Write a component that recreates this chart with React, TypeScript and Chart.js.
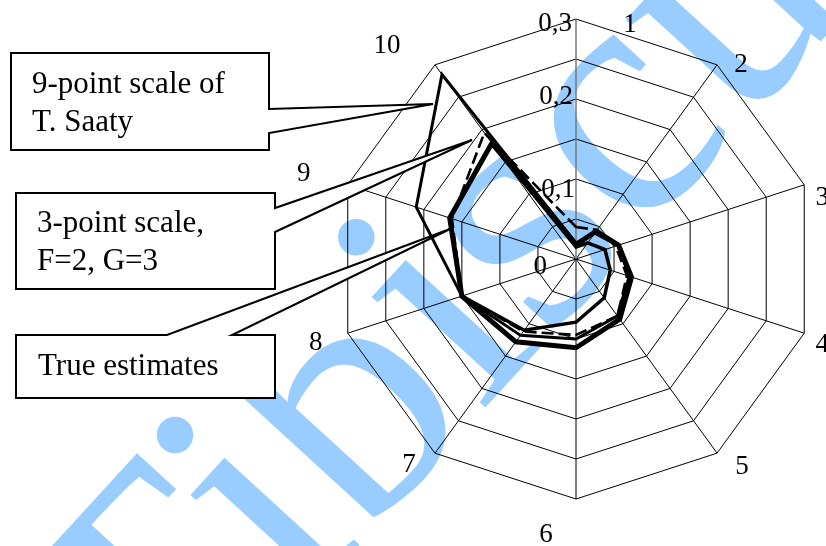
import React, { useEffect, useRef } from 'react';
import { Chart, registerables } from 'chart.js';

Chart.register(...registerables);

// ---- data ----
const categories = ['1', '2', '3', '4', '5', '6', '7', '8', '9', '10'];
const saatyScale = [0.02, 0.04, 0.055, 0.07, 0.088, 0.1, 0.118, 0.15, 0.21, 0.285];
const threePointScale = [0.04, 0.045, 0.052, 0.067, 0.088, 0.095, 0.112, 0.15, 0.163, 0.195];
const trueEstimates = [0.018, 0.043, 0.056, 0.073, 0.093, 0.111, 0.128, 0.15, 0.166, 0.179];
const otherScale = [0.015, 0.025, 0.038, 0.045, 0.06, 0.079, 0.11, 0.15, 0.166, 0.179];
const tickValues = [0, 0.1, 0.2, 0.3];
const tickLabels = ['0', '0,1', '0,2', '0,3'];
const calloutTexts = [['9-point scale of', 'T. Saaty'], ['3-point scale,', 'F=2, G=3'], ['True estimates']];
const watermarkText = 'Tibiscus';

// ---- layout (label placement only) ----
const SERIF = '"Liberation Serif", "Times New Roman", serif';
const pointLabelOffsets = [
  [54, 3.5], [24, -1.5], [18, 11], [18, 9.5], [25, 11.5],
  [-30, 33.5], [-26, 10], [-32, 8], [-44, -13], [-48, -21],
];
const tickLabelShift = [[-29, 5.5], [-1, 9], [-3, -4.5], [-4, 3]];

const decorPlugin = {
  id: 'decor',
  beforeDraw(chart: any) {
    const ctx = chart.ctx;
    ctx.save();
    ctx.fillStyle = '#99CCFF';
    ctx.font = `345px ${SERIF}`;
    ctx.translate(165, 757);
    ctx.rotate((-47.5 * Math.PI) / 180);
    ctx.textAlign = 'left';
    ctx.textBaseline = 'alphabetic';
    ctx.fillText(watermarkText, 0, 0);
    ctx.restore();
  },
  afterDraw(chart: any) {
    const ctx = chart.ctx;
    const scale = chart.scales.r;
    ctx.save();
    // point labels
    ctx.fillStyle = '#000';
    ctx.font = `27px ${SERIF}`;
    ctx.textAlign = 'center';
    ctx.textBaseline = 'alphabetic';
    categories.forEach((c, i) => {
      const p = scale.getPointPosition(i, scale.drawingArea);
      const o = pointLabelOffsets[i];
      ctx.fillText(c, p.x + o[0], p.y + o[1] + 9);
    });
    // tick labels
    ctx.textAlign = 'right';
    tickValues.forEach((v, i) => {
      const d = scale.getDistanceFromCenterForValue(v);
      const s = tickLabelShift[i];
      ctx.fillText(tickLabels[i], scale.xCenter + s[0], scale.yCenter - d + s[1] + 9);
    });
    // callouts
    const shapes = [
      [[11, 53], [269, 53], [269, 109], [433, 104], [269, 133], [269, 150], [11, 150]],
      [[16, 193], [275, 193], [275, 208], [472, 140], [275, 232], [275, 289], [16, 289]],
      [[16, 335], [167, 335], [450, 229], [232, 335], [275, 335], [275, 398], [16, 398]],
    ];
    const textPos = [[32, 93, 38], [37, 232, 38], [38, 375, 38]];
    shapes.forEach((sh, k) => {
      ctx.beginPath();
      sh.forEach((pt, j) => (j === 0 ? ctx.moveTo(pt[0], pt[1]) : ctx.lineTo(pt[0], pt[1])));
      ctx.closePath();
      ctx.fillStyle = '#fff';
      ctx.fill();
      ctx.lineWidth = 2;
      ctx.strokeStyle = '#000';
      ctx.lineJoin = 'miter';
      ctx.stroke();
      ctx.fillStyle = '#000';
      ctx.font = `31px ${SERIF}`;
      ctx.textAlign = 'left';
      calloutTexts[k].forEach((line, li) => {
        ctx.fillText(line, textPos[k][0], textPos[k][1] + li * textPos[k][2]);
      });
    });
    ctx.restore();
  },
};

export default function App() {
  const ref = useRef<HTMLCanvasElement | null>(null);
  useEffect(() => {
    if (!ref.current) return;
    const base = { pointRadius: 0, pointHoverRadius: 0, fill: false, tension: 0, borderColor: '#000', backgroundColor: 'transparent' };
    const chart = new Chart(ref.current, {
      type: 'radar',
      data: {
        labels: categories,
        datasets: [
          { ...base, label: '9-point scale of T. Saaty', data: saatyScale, borderWidth: 3 },
          { ...base, label: '3-point scale, F=2, G=3', data: threePointScale, borderWidth: 2.6, borderDash: [12, 5] },
          { ...base, label: 'True estimates', data: trueEstimates, borderWidth: 5 },
          { ...base, label: 'Other', data: otherScale, borderWidth: 3.5 },
        ],
      },
      options: {
        responsive: false,
        animation: false,
        devicePixelRatio: 1,
        layout: { padding: { left: 336, right: 10, top: 19, bottom: 47 } },
        plugins: { legend: { display: false }, tooltip: { enabled: false } },
        scales: {
          r: {
            min: 0,
            max: 0.3,
            beginAtZero: true,
            ticks: { display: false, stepSize: 0.05 },
            pointLabels: { display: false },
            grid: { color: '#000', lineWidth: 1, circular: false },
            angleLines: { color: (c: any) => (c.index === 0 ? '#777' : '#000'), lineWidth: (c: any) => (c.index === 0 ? 1.5 : 1) },
          },
        },
      },
      plugins: [decorPlugin],
    });
    return () => chart.destroy();
  }, []);
  return (
    <div style={{ position: 'absolute', left: 0, top: 0, width: 826, height: 546, background: '#fff' }}>
      <canvas ref={ref} width={826} height={546} style={{ width: 826, height: 546, display: 'block' }} />
    </div>
  );
}
